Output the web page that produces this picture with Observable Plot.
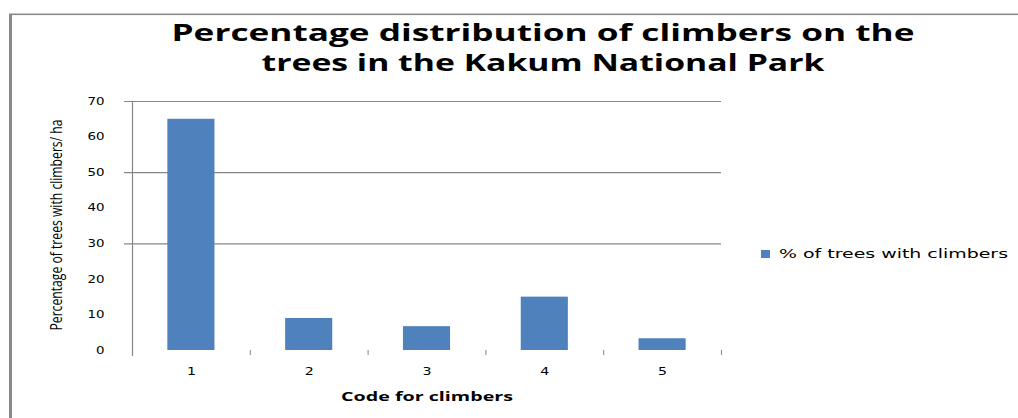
<!DOCTYPE html>
<html><head><meta charset="utf-8">
<script src="https://cdn.jsdelivr.net/npm/d3@7"></script>
<script src="https://cdn.jsdelivr.net/npm/@observablehq/plot@0.6"></script>
<style>body{margin:0;background:#fff} svg{display:block}</style>
</head><body><div id="chart"></div>
<script>
const codes = [1, 2, 3, 4, 5];
const values = [65, 9, 6.7, 15, 3.3];
const yTicks = [0, 10, 20, 30, 40, 50, 60, 70];
const gridTicks = [30, 50, 70];
const bandEdges = [1.5, 2.5, 3.5, 4.5, 5.5];
const titleLines = ["Percentage distribution of climbers on the", "trees in the Kakum National Park"];
const yLabel = "Percentage of trees with climbers/ ha";
const xLabel = "Code for climbers";
const seriesName = "% of trees with climbers";

const data = codes.map((c, i) => ({code: c, value: values[i]}));
const barColor = "#4F81BD";
const lineColor = "#868686";

const chart = Plot.plot({
  width: 1018, height: 418,
  marginLeft: 132, marginRight: 297, marginTop: 101, marginBottom: 68,
  style: {background: "#fff", fontFamily: "DejaVu Sans", color: "#000"},
  x: {type: "linear", domain: [0.5, 5.5], label: null},
  y: {domain: [0, 70], label: null},
  marks: [
    Plot.gridY(gridTicks, {stroke: lineColor, strokeOpacity: 1, strokeWidth: 1.2, insetLeft: -8}),
    Plot.rectY(data, {x1: d => d.code - 0.2, x2: d => d.code + 0.2, y: "value", fill: barColor}),
    Plot.frame({anchor: "left", stroke: lineColor, strokeWidth: 1.2, insetBottom: -5}),
    Plot.axisX(bandEdges, {tickSize: 5, stroke: lineColor, tickFormat: () => ""}),
    Plot.axisX(codes, {tickSize: 0, tickPadding: 17, fontSize: 11, tickFormat: d => String(d)}),
    Plot.axisY(yTicks, {tickSize: 0, tickPadding: 28, fontSize: 10, tickFormat: d => String(d)})
  ]
});
document.getElementById("chart").appendChild(chart);

const svg = d3.select(chart);
// stretch tick labels like the reference
svg.selectAll('g[aria-label="y-axis tick label"] text').each(function() {
  const t = this.textContent;
  d3.select(this).attr("textLength", 8.5 * t.length).attr("lengthAdjust", "spacingAndGlyphs");
});
svg.selectAll('g[aria-label="x-axis tick label"] text').each(function() {
  const t = this.textContent;
  if (t) d3.select(this).attr("textLength", 9 * t.length).attr("lengthAdjust", "spacingAndGlyphs");
});

// chart border (left and top)
svg.append("rect").attr("x", 9).attr("y", 14).attr("width", 3).attr("height", 404).attr("fill", "#8a8a8a");
svg.append("rect").attr("x", 9).attr("y", 13.5).attr("width", 1009).attr("height", 1.6).attr("fill", "#8a8a8a");

// title
const titleY = [33, 63], titleLen = [743, 563];
titleLines.forEach((line, i) => {
  svg.append("text").attr("x", 543).attr("y", titleY[i]).attr("dy", "0.35em")
    .attr("text-anchor", "middle").attr("font-family", "Open Sans").attr("font-weight", 700)
    .attr("font-size", 23).attr("fill", "#000")
    .attr("textLength", titleLen[i]).attr("lengthAdjust", "spacingAndGlyphs").text(line);
});

// y-axis title
svg.append("text").attr("transform", "translate(56,225) rotate(-90)").attr("dy", "0.35em")
  .attr("text-anchor", "middle").attr("font-family", "Open Sans").attr("font-size", 16)
  .attr("fill", "#000").attr("textLength", 211).attr("lengthAdjust", "spacingAndGlyphs").text(yLabel);

// x-axis title
svg.append("text").attr("x", 427).attr("y", 397).attr("dy", "0.35em")
  .attr("text-anchor", "middle").attr("font-family", "Open Sans").attr("font-weight", 700)
  .attr("font-size", 12).attr("fill", "#000")
  .attr("textLength", 172).attr("lengthAdjust", "spacingAndGlyphs").text(xLabel);

// legend
svg.append("rect").attr("x", 761).attr("y", 250).attr("width", 9).attr("height", 8).attr("fill", barColor);
svg.append("text").attr("x", 779).attr("y", 254).attr("dy", "0.35em").attr("text-anchor", "start")
  .attr("font-family", "DejaVu Sans").attr("font-size", 12).attr("fill", "#000")
  .attr("textLength", 229).attr("lengthAdjust", "spacingAndGlyphs").text(seriesName);
</script>
</body></html>
